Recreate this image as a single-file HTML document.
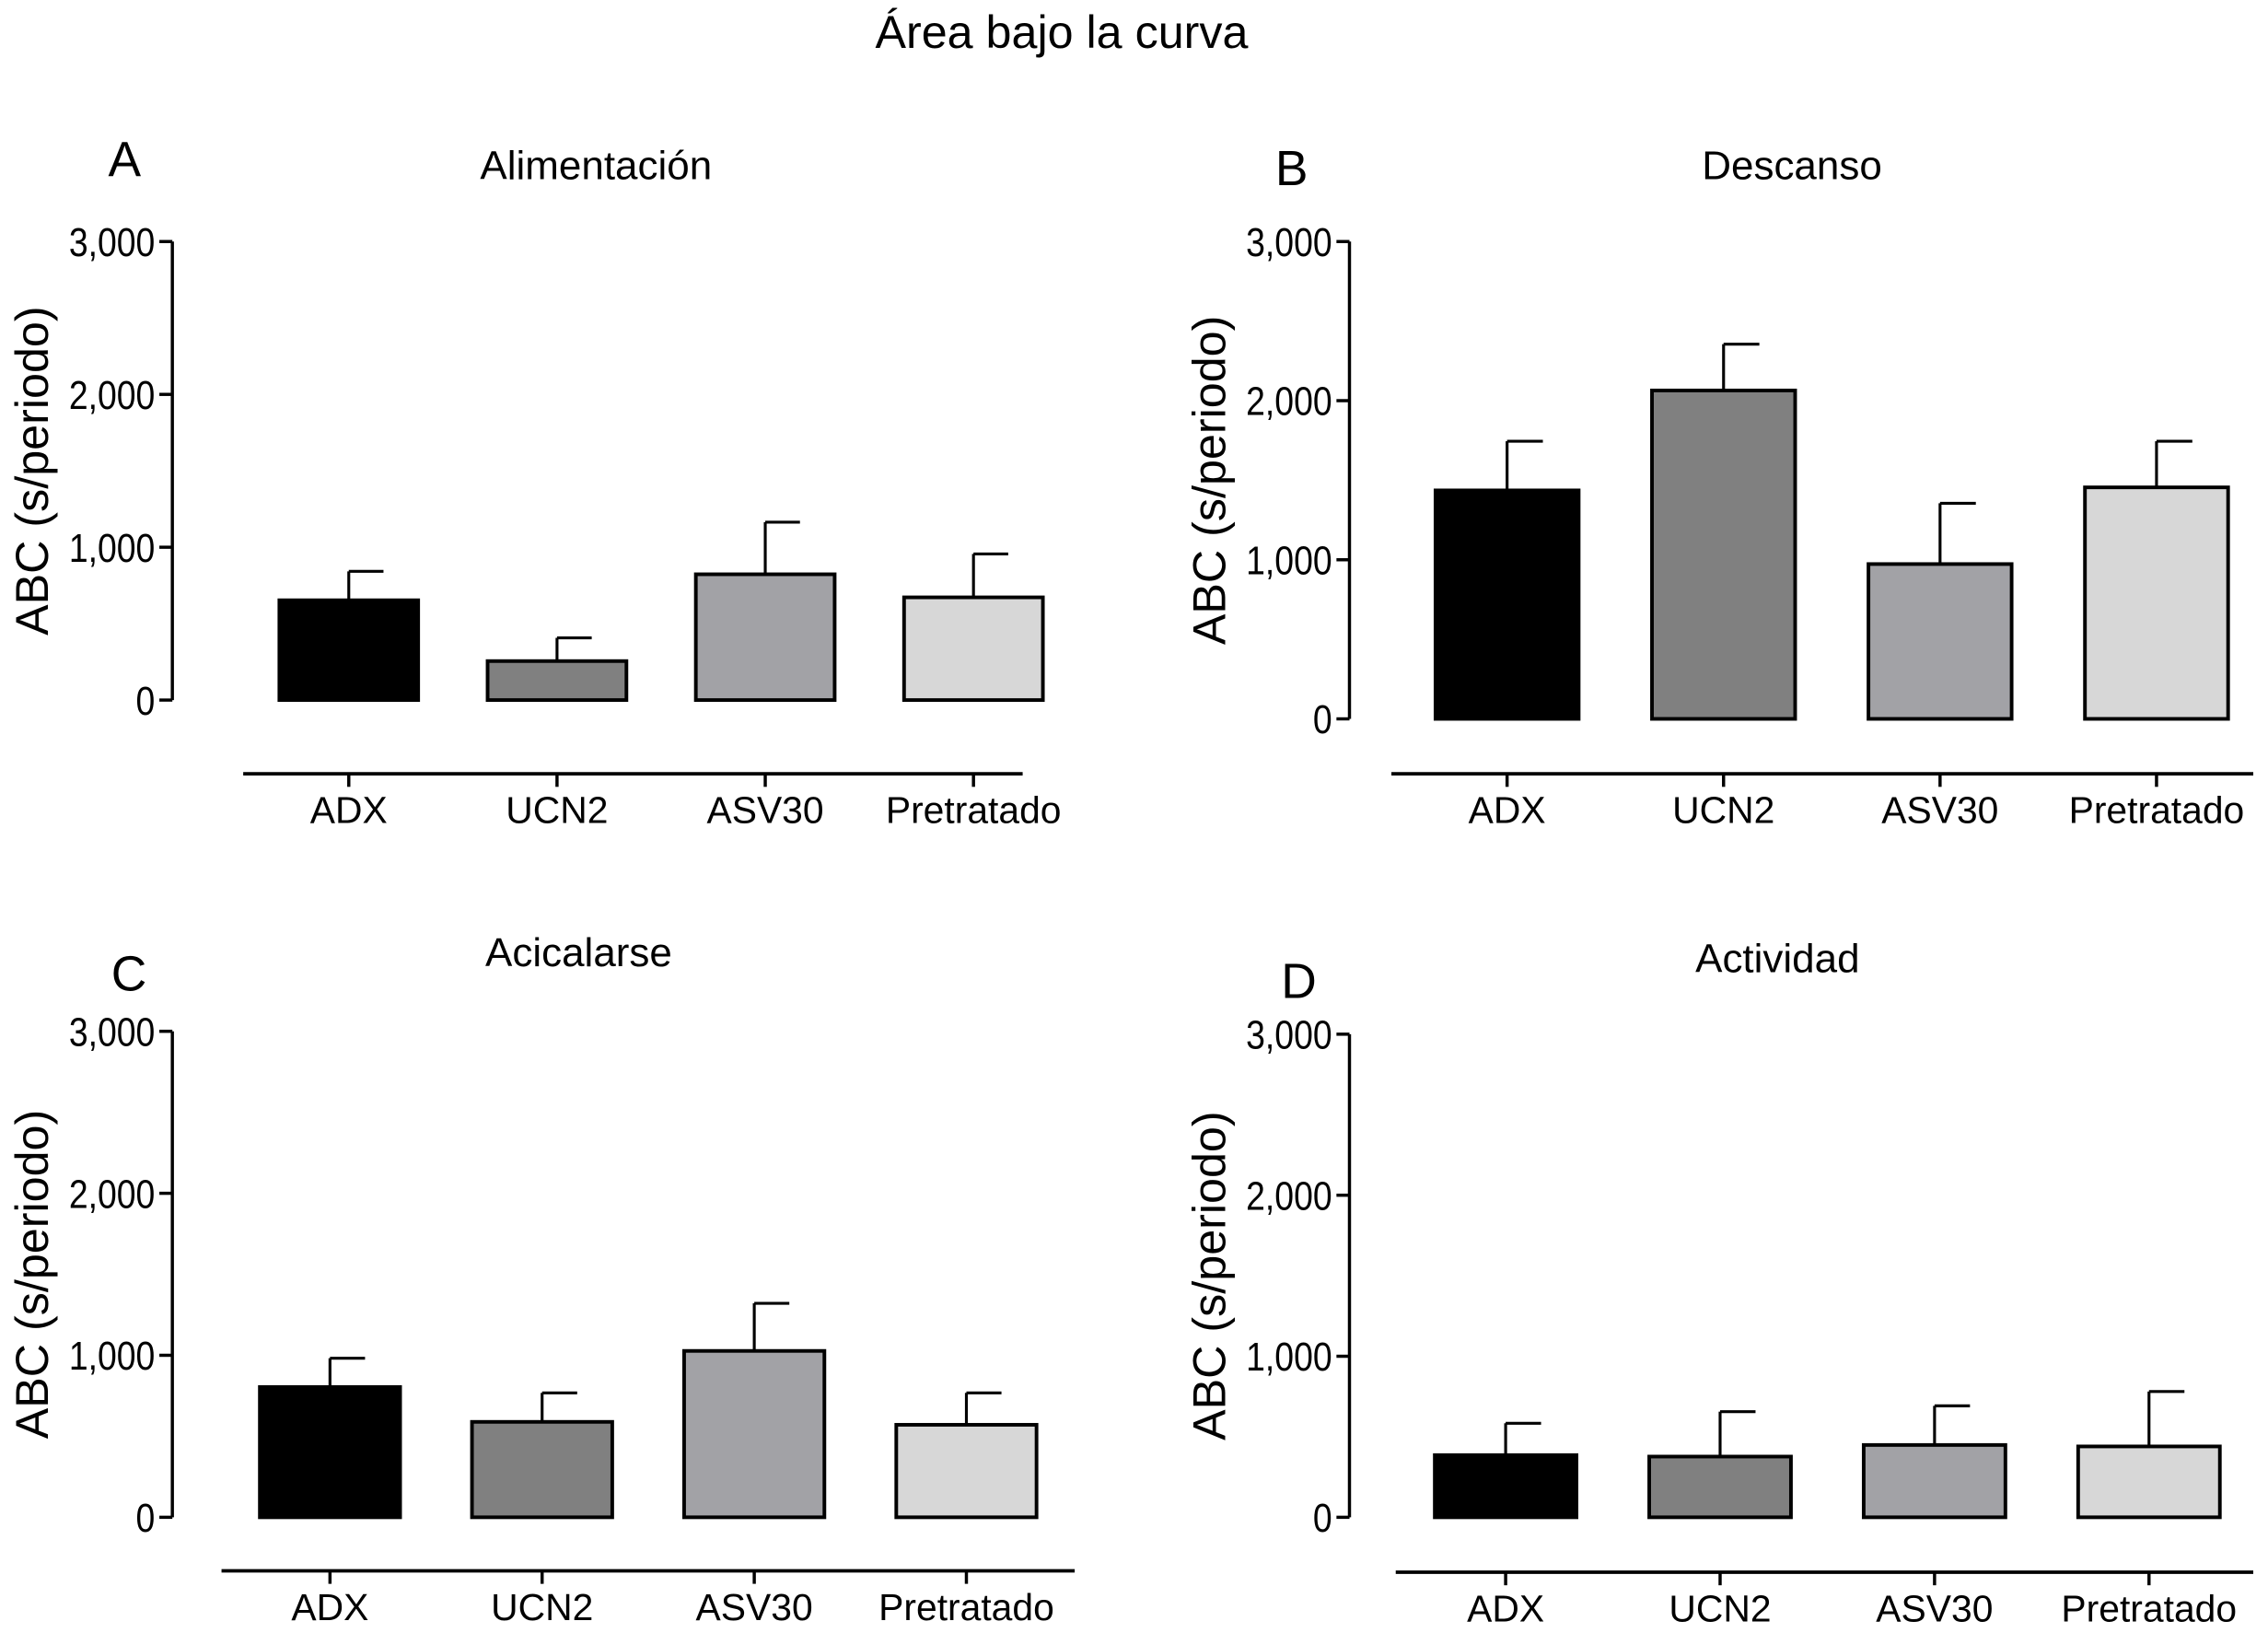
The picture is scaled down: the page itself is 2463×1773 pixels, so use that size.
<!DOCTYPE html>
<html><head><meta charset="utf-8"><style>
html,body{margin:0;padding:0;background:#fff}
svg{display:block}
text{font-family:"Liberation Sans",sans-serif;fill:#000}
</style></head><body>
<svg id="fig" width="2463" height="1773" viewBox="0 0 1568 1129" xmlns="http://www.w3.org/2000/svg">
<text x="734" y="33" font-size="32" text-anchor="middle">Área bajo la curva</text>
</svg>
<script>
const categories = ["ADX","UCN2","ASV30","Pretratado"];
const panelTitles = ["Alimentación","Descanso","Acicalarse","Actividad"];
const panelLetters = ["A","B","C","D"];
const yTicks = [0,1000,2000,3000];
const yTickLabels = ["0","1,000","2,000","3,000"];
const meansA = [653,255,823,672];
const errA = [842,407,1164,956];
const meansB = [1436,2064,973,1455];
const errB = [1745,2355,1355,1745];
const meansC = [804,589,1027,571];
const errC = [982,768,1321,768];
const meansD = [386,377,449,440];
const errD = [584,656,692,781];
const colors = ["#000000","#808080","#a2a2a6","#d7d7d7"];

const svg = document.getElementById('fig');
const NS = "http://www.w3.org/2000/svg";
function mk(tag, attrs, parent){const e=document.createElementNS(NS,tag);for(const k in attrs)e.setAttribute(k,attrs[k]);(parent||svg).appendChild(e);return e;}

const layouts = [
 {ax:119,yTop:167,y0:484,xl:168,xr:707,xa:535,c0:241,dc:144,bw:96,lx:86,ly:122,tx:412,ty:124,ytx:22},
 {ax:933,yTop:167,y0:497,xl:962,xr:1558,xa:535,c0:1042,dc:149.7,bw:99,lx:893,ly:128,tx:1239,ty:124,ytx:836},
 {ax:119,yTop:713,y0:1049,xl:153,xr:743,xa:1086,c0:228,dc:146.7,bw:97,lx:89,ly:685,tx:400,ty:668,ytx:22},
 {ax:933,yTop:715,y0:1049,xl:965,xr:1558,xa:1087,c0:1041,dc:148.3,bw:98,lx:898,ly:690,tx:1229,ty:672,ytx:836}
];
const means=[meansA,meansB,meansC,meansD], errs=[errA,errB,errC,errD];

layouts.forEach((L,p)=>{
  const g = mk('g',{});
  
  
  const y = v => L.y0 - (v/3000)*(L.y0-L.yTop);
  const xc = i => L.c0 + i*L.dc;
  let t = mk('text',{x:L.lx,y:L.ly,'font-size':34,'text-anchor':'middle'},g); t.textContent=panelLetters[p];
  
  
  t = mk('text',{x:L.tx,y:L.ty,'font-size':28,'text-anchor':'middle'},g); t.textContent=panelTitles[p];
  
  
  const cy=(L.yTop+L.y0)/2;
  t = mk('text',{x:L.ytx,y:cy,'font-size':32,'text-anchor':'middle',transform:`rotate(-90 ${L.ytx} ${cy})`,dy:'11'},g); t.textContent="ABC (s/periodo)";
  
  
  let a = mk('line',{x1:L.ax,y1:L.yTop,x2:L.ax,y2:L.y0,stroke:'#000','stroke-width':2.2},g);
  
  
  yTicks.forEach((v,i)=>{
    const tk=mk('line',{x1:L.ax-9,y1:y(v),x2:L.ax,y2:y(v),stroke:'#000','stroke-width':2.2},g);
    
    
    const tl=mk('text',{x:L.ax-12,y:y(v)+10,'font-size':28,'text-anchor':'end',transform:`translate(${(L.ax-12)*0.15} 0) scale(0.85 1)`},g);
    tl.textContent=yTickLabels[i];
    
    
  });
  a = mk('line',{x1:L.xl,y1:L.xa,x2:L.xr,y2:L.xa,stroke:'#000','stroke-width':2.4},g);
  
  
  categories.forEach((c,i)=>{
    const x=xc(i);
    const e=mk('line',{x1:x,y1:y(errs[p][i]),x2:x,y2:y(means[p][i]),stroke:'#000','stroke-width':2},g);
    
    
    const cap=mk('line',{x1:x,y1:y(errs[p][i]),x2:x+L.bw/4,y2:y(errs[p][i]),stroke:'#000','stroke-width':2},g);
    
    
    const b=mk('rect',{x:x-L.bw/2,y:y(means[p][i]),width:L.bw,height:L.y0-y(means[p][i]),fill:colors[i],stroke:'#000','stroke-width':2.5},g);
    
    
    const tk=mk('line',{x1:x,y1:L.xa,x2:x,y2:L.xa+9,stroke:'#000','stroke-width':2.2},g);
    
    
    const tl=mk('text',{x:x,y:L.xa+34,'font-size':26,'text-anchor':'middle'},g);
    tl.textContent=c;
    
    
  });
});
</script>
</body></html>
